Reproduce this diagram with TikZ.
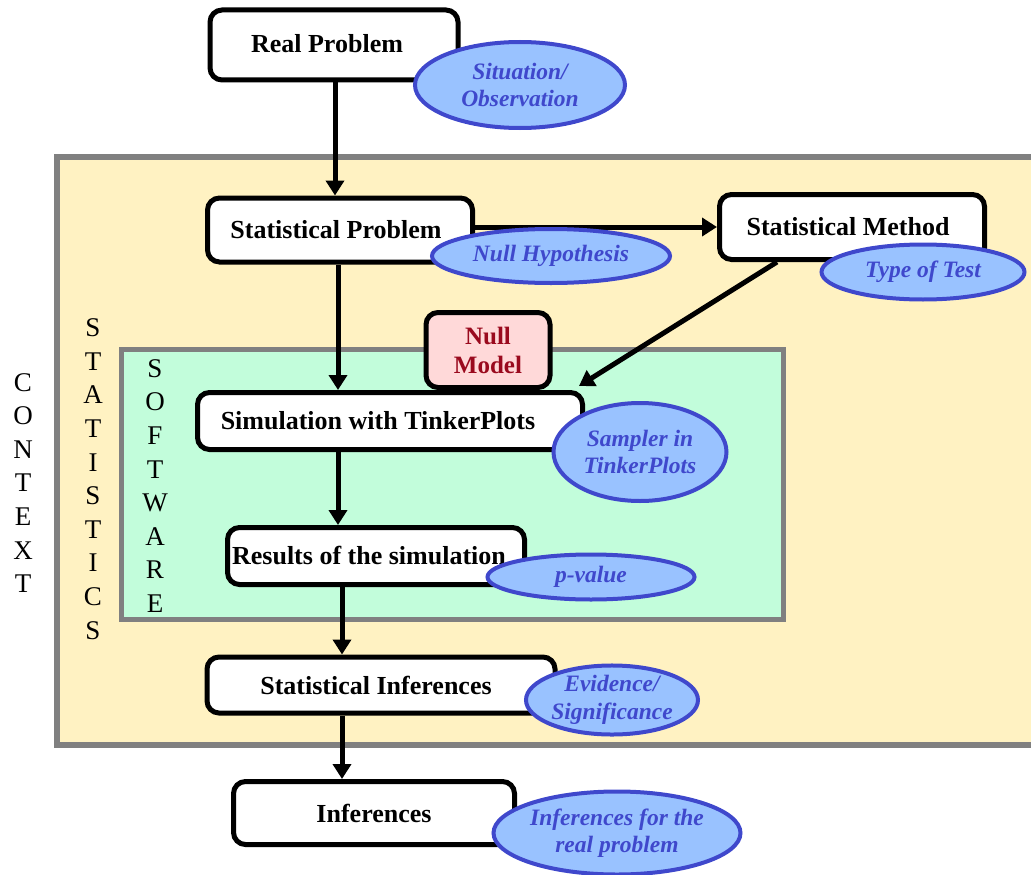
\documentclass[tikz,border=0pt]{standalone}
\usepackage{fontspec}
\setmainfont{Liberation Serif}
\usetikzlibrary{arrows.meta,shapes.geometric,calc}
\definecolor{statfill}{HTML}{FFF2C2}
\definecolor{softfill}{HTML}{C2FDDB}
\definecolor{framegray}{HTML}{808080}
\definecolor{nullfill}{HTML}{FFD9D9}
\definecolor{nulltext}{HTML}{9A0A1E}
\definecolor{ellfill}{HTML}{99C2FF}
\definecolor{ellline}{HTML}{3F48CC}
\begin{document}
\begin{tikzpicture}[x=1pt,y=-1pt,
  stepbox/.style={draw=black,fill=white,line width=5pt,rounded corners=12pt,inner sep=0pt,
    font=\fontsize{26}{30}\selectfont\bfseries},
  note/.style={ellipse,draw=ellline,fill=ellfill,line width=4pt,inner sep=0pt,text=ellline,
    align=center,font=\fontsize{23.5}{27.5}\selectfont\bfseries\itshape},
  arr/.style={line width=5pt,-{Triangle[length=15pt,width=18pt]}},
  vert/.style={align=center,font=\fontsize{27}{33.6}\selectfont}]
\useasboundingbox (0,0) rectangle (1031,875);
\begin{scope}
\clip (0,0) rectangle (1031,875);
\draw[framegray,line width=6pt,fill=statfill] (57,157) rectangle (1045,745);
\draw[framegray,line width=5pt,fill=softfill] (121,349) rectangle (783,619);
\end{scope}
% vertical labels
\node[vert] (ctx) at (23,483) {C\\O\\N\\T\\E\\X\\T};
\node[vert] (sta) at (93,479) {S\\T\\A\\T\\I\\S\\T\\I\\C\\S};
\node[vert] (sof) at (155,486) {S\\O\\F\\T\\W\\A\\R\\E};
% boxes
\node[stepbox,minimum width=248pt,minimum height=70pt] (rp) at (334,45) {\raisebox{3pt}{Real Problem}\hspace*{14pt}};
\node[stepbox,minimum width=265pt,minimum height=64pt] (sp) at (340,230) {Statistical Problem\hspace*{8pt}};
\node[stepbox,minimum width=265pt,minimum height=65pt] (sm) at (852,227) {Statistical Method\hspace*{8pt}};
\node[stepbox,fill=nullfill,text=nulltext,align=center,minimum width=124pt,minimum height=75pt,
  font=\fontsize{25}{29}\selectfont\bfseries] (nm) at (488,350) {Null\\Model};
\node[stepbox,minimum width=385pt,minimum height=57pt] (sim) at (390,421) {Simulation with TinkerPlots\hspace*{24pt}};
\node[stepbox,minimum width=297pt,minimum height=57pt] (res) at (376,556) {Results of the simulation\hspace*{14pt}};
\node[stepbox,minimum width=348pt,minimum height=56pt] (si) at (381,685) {Statistical Inferences\hspace*{10pt}};
\node[stepbox,minimum width=281pt,minimum height=63pt] (inf) at (374,813) {Inferences};
% arrows
\draw[arr] ([xshift=1pt]rp.south) -- ([xshift=1pt]rp.south |- sp.north);
\draw[arr] (sp.east |- sm.west) -- (sm.west);
\draw[arr] ([xshift=-75pt]sm.south) -- ([xshift=-6pt,yshift=4pt]sim.north east);
\draw[arr] ([xshift=-2pt]sp.south) -- ([xshift=-2pt]sp.south |- sim.north);
\draw[arr] ([xshift=-2pt]sp.south |- sim.south) -- ([xshift=-2pt]sp.south |- res.north);
\draw[arr] ([xshift=2pt]sp.south |- res.south) -- ([xshift=2pt]sp.south |- si.north);
\draw[arr] ([xshift=2pt]sp.south |- si.south) -- ([xshift=2pt]sp.south |- inf.north);
% notes
\node[note,minimum width=210pt,minimum height=86pt] (n1) at (520,85) {Situation/\\Observation};
\node[note,minimum width=238pt,minimum height=54pt] (n2) at (551,256) {Null Hypothesis};
\node[note,minimum width=203pt,minimum height=55pt] (n3) at (923,272) {Type of Test};
\node[note,minimum width=173pt,minimum height=98pt] (n4) at (640,452) {Sampler in\\TinkerPlots};
\node[note,minimum width=207pt,minimum height=45pt] (n5) at (591,577) {p-value};
\node[note,minimum width=172pt,minimum height=68pt] (n6) at (612,700) {Evidence/\\Significance};
\node[note,minimum width=247pt,minimum height=83pt] (n7) at (617,833) {Inferences for the\\real problem};
\end{tikzpicture}
\end{document}
